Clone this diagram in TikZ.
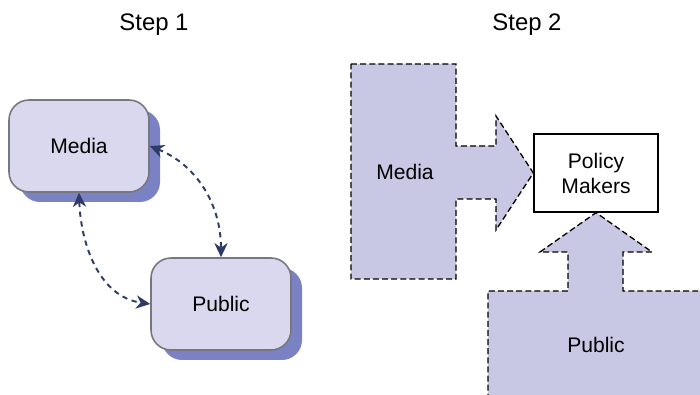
\documentclass[tikz,border=0pt]{standalone}
\usepackage{fontspec}
\setmainfont{Liberation Sans}
\usepackage{tikz}
\usetikzlibrary{shadows}
\usetikzlibrary{arrows.meta}
\usetikzlibrary{positioning}
\definecolor{boxfill}{HTML}{D9D8EE}
\definecolor{boxshadow}{HTML}{7B82C4}
\definecolor{boxline}{HTML}{77777F}
\definecolor{linkcol}{HTML}{2E3B66}
\definecolor{flowfill}{HTML}{C8C8E4}
\tikzstyle{title}    = [font=\fontsize{13.6}{16}\selectfont]
\tikzstyle{txt}      = [font=\fontsize{12}{14.2}\selectfont, align=center]
\tikzstyle{actor}    = [txt, fill=boxfill, draw=boxline, line width=0.9pt, rounded corners=4mm, minimum width=2.8cm, minimum height=1.84cm, drop shadow={shadow xshift=0.22cm, shadow yshift=-0.2cm, fill=boxshadow, opacity=1}]
\tikzstyle{link}     = [draw=linkcol, line width=1.1pt, dash pattern=on 3pt off 2.6pt, {Stealth[length=8pt,width=7.5pt,inset=2.5pt]}-{Stealth[length=8pt,width=7.5pt,inset=2.5pt]}]
\tikzstyle{flow}     = [fill=flowfill, draw=black, line width=0.75pt, dash pattern=on 3.4pt off 1.8pt]
\tikzstyle{target}   = [txt, fill=white, draw=black, line width=0.75pt, minimum width=2.48cm, minimum height=1.56cm]

\begin{document}
\begin{tikzpicture}
     \useasboundingbox (0,0) rectangle (14,7.88);
     \clip (0,0) rectangle (14,7.88);
     % step 1
     \node[title] (step1) at (3.08, 7.38) {Step 1};
     \node[actor] (media)  at (1.58, 4.96) {Media};
     \node[actor] (public) at (4.42, 1.80) {Public};
     \draw[link] (media.east) to[out=-22, in=90] (public.north);
     \draw[link] (media.south) to[out=-88, in=172] (public.west);
     % step 2
     \node[title] (step2) at (10.54, 7.38) {Step 2};
     \node[target] (policy) at (11.92, 4.42) {Policy\\Makers};
     \filldraw[flow]
       (7.02,6.60) -- (9.12,6.60) -- (9.12,4.96) -- (9.92,4.96) -- (9.92,5.56)
       -- (policy.west) -- (9.92,3.28) -- (9.92,3.90) -- (9.12,3.90)
       -- (9.12,2.30) -- (7.02,2.30) -- cycle;
     \filldraw[flow]
       (9.76,-0.30) -- (9.76,2.06) -- (11.36,2.06) -- (11.36,2.84) -- (10.80,2.84)
       -- (policy.south) -- (13.04,2.84) -- (12.46,2.84) -- (12.46,2.06)
       -- (14.30,2.06) -- (14.30,-0.30) -- cycle;
     \node[txt] (media2)  at (8.10, 4.44) {Media};
     \node[txt] (public2) at (11.92, 0.98) {Public};
\end{tikzpicture}
\end{document}
